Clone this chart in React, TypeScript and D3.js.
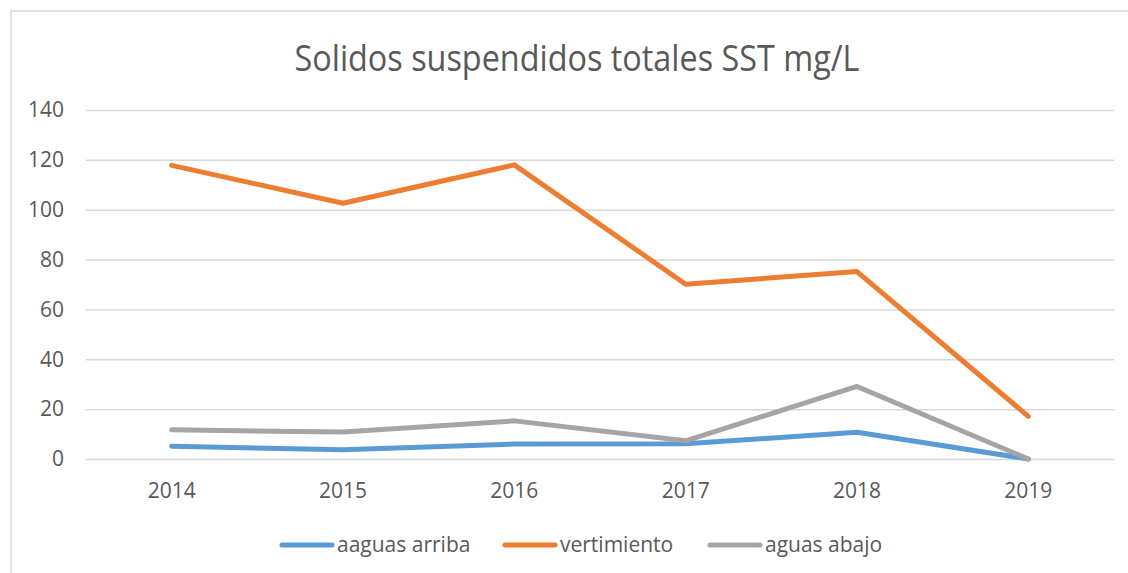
import React, { useRef, useEffect } from "react";
import * as d3 from "d3";

const years = ["2014", "2015", "2016", "2017", "2018", "2019"];
const aguasArriba = [5.1, 3.7, 6.0, 6.1, 10.7, 0];
const vertimiento = [117.8, 102.6, 118, 70.1, 75.2, 17.1];
const aguasAbajo = [11.7, 10.8, 15.3, 7.3, 29.1, 0];
const yTicks = [0, 20, 40, 60, 80, 100, 120, 140];

const series = [
  { label: "aaguas arriba", color: "#5B9BD5", values: aguasArriba },
  { label: "vertimiento", color: "#ED7D31", values: vertimiento },
  { label: "aguas abajo", color: "#A5A5A5", values: aguasAbajo },
];

const W = 1128;
const H = 573;
const FONT = "'Open Sans', sans-serif";

const App = () => {
  const ref = useRef<SVGSVGElement | null>(null);

  useEffect(() => {
    if (!ref.current) return;
    const svg = d3.select(ref.current);
    svg.selectAll("*").remove();

    const margin = { top: 110, right: 14, bottom: 114, left: 86 };
    const x = d3
      .scaleBand()
      .domain(years)
      .range([margin.left, W - margin.right])
      .padding(0);
    const y = d3
      .scaleLinear()
      .domain([0, 140])
      .range([H - margin.bottom, margin.top]);

    // chart frame
    svg
      .append("rect")
      .attr("x", 11)
      .attr("y", 11)
      .attr("width", W + 20)
      .attr("height", H + 20)
      .attr("fill", "white")
      .attr("stroke", "#D9D9D9")
      .attr("stroke-width", 1.5);

    // title
    svg
      .append("text")
      .attr("x", 577)
      .attr("y", 71)
      .attr("text-anchor", "middle")
      .attr("textLength", 565)
      .attr("lengthAdjust", "spacingAndGlyphs")
      .style("font-family", FONT)
      .style("font-size", "36px")
      .style("fill", "#595959")
      .text("Solidos suspendidos totales SST mg/L");

    // grid lines
    svg
      .append("g")
      .attr("transform", `translate(${margin.left},0)`)
      .call(
        d3
          .axisLeft(y)
          .tickValues(yTicks)
          .tickSize(-(W - margin.left - margin.right))
          .tickFormat(() => "")
      )
      .call((g) => g.select(".domain").remove())
      .call((g) =>
        g
          .selectAll(".tick line")
          .attr("stroke", "#D9D9D9")
          .attr("stroke-width", 1.5)
      );

    // y labels
    svg
      .append("g")
      .attr("transform", `translate(${margin.left},0)`)
      .call(d3.axisLeft(y).tickValues(yTicks).tickSize(0).tickPadding(22))
      .call((g) => g.select(".domain").remove())
      .selectAll("text")
      .style("font-family", FONT)
      .style("font-size", "21px")
      .style("fill", "#595959");

    // x labels
    svg
      .append("g")
      .attr("transform", `translate(0,${H - margin.bottom})`)
      .call(d3.axisBottom(x).tickSize(0).tickPadding(24))
      .call((g) => g.select(".domain").remove())
      .selectAll("text")
      .style("font-family", FONT)
      .style("font-size", "21px")
      .style("fill", "#595959");

    const line = d3
      .line<number>()
      .x((_, i) => (x(years[i]) || 0) + x.bandwidth() / 2)
      .y((d) => y(d));

    series.forEach((s) => {
      svg
        .append("path")
        .datum(s.values)
        .attr("d", line)
        .attr("fill", "none")
        .attr("stroke", s.color)
        .attr("stroke-width", 5)
        .attr("stroke-linejoin", "round")
        .attr("stroke-linecap", "round");
    });

    // legend
    const legendX = [282, 505, 710];
    const legend = svg.append("g");
    series.forEach((s, i) => {
      legend
        .append("line")
        .attr("x1", legendX[i])
        .attr("x2", legendX[i] + 50)
        .attr("y1", 545)
        .attr("y2", 545)
        .attr("stroke", s.color)
        .attr("stroke-width", 5)
        .attr("stroke-linecap", "round");
      legend
        .append("text")
        .attr("x", legendX[i] + 55)
        .attr("y", 552)
        .style("font-family", FONT)
        .style("font-size", "21px")
        .style("fill", "#595959")
        .text(s.label);
    });
  }, []);

  return (
    <svg
      ref={ref}
      width={W}
      height={H}
      style={{ position: "absolute", left: 0, top: 0 }}
    />
  );
};

export default App;
